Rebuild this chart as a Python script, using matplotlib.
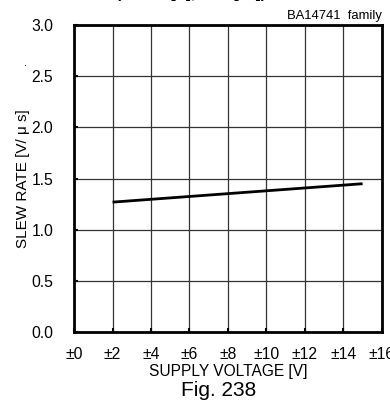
import numpy as np
import matplotlib.pyplot as plt

plt.rcParams['font.family'] = ['Liberation Sans', 'DejaVu Sans']

# supply voltage (±V) and slew rate (V/us)
supply_v = [2, 15]
slew_rate = [1.27, 1.45]

x_ticks = list(range(0, 17, 2))
x_labels = ['±%d' % v for v in x_ticks]
y_ticks = [0.0, 0.5, 1.0, 1.5, 2.0, 2.5, 3.0]

fig = plt.figure(figsize=(3.9, 4.05), dpi=100)
ax = fig.add_axes([0.19, 0.18, 0.789, 0.758])

ax.plot(supply_v, slew_rate, color='black', lw=2.0, solid_capstyle='butt')

ax.set_xlim(0, 16)
ax.set_ylim(0, 3.0)
ax.set_xticks(x_ticks)
ax.set_xticklabels(x_labels)
ax.set_yticks(y_ticks)
ax.set_yticklabels(['%.1f' % v for v in y_ticks])
ax.grid(True, color='#333333', lw=0.9)
ax.tick_params(direction='in', length=3, width=1.5, labelsize=11.3)
ax.tick_params(axis='x', pad=11)
ax.tick_params(axis='y', pad=15)
for s in ax.spines.values():
    s.set_linewidth(2.0)

ax.set_xlabel('SUPPLY VOLTAGE [V]', fontsize=11.2, labelpad=1)
ax.set_ylabel('SLEW RATE [V/ μ s]', fontsize=11, labelpad=1)

ax.text(1.0, 1.01, 'BA14741  family', transform=ax.transAxes,
        ha='right', va='bottom', fontsize=9.4)
fig.text(0.56, 0.037, 'Fig. 238', ha='center', va='center', fontsize=15)
fig.text(0.49, 1.016, '(VCC = [V], Ta = [°C])', ha='center', va='center',
         fontsize=11, fontweight='bold')
fig.text(0.065, 0.845, '.', ha='center', va='center', fontsize=8)

fig.savefig('out.png', dpi=100)
